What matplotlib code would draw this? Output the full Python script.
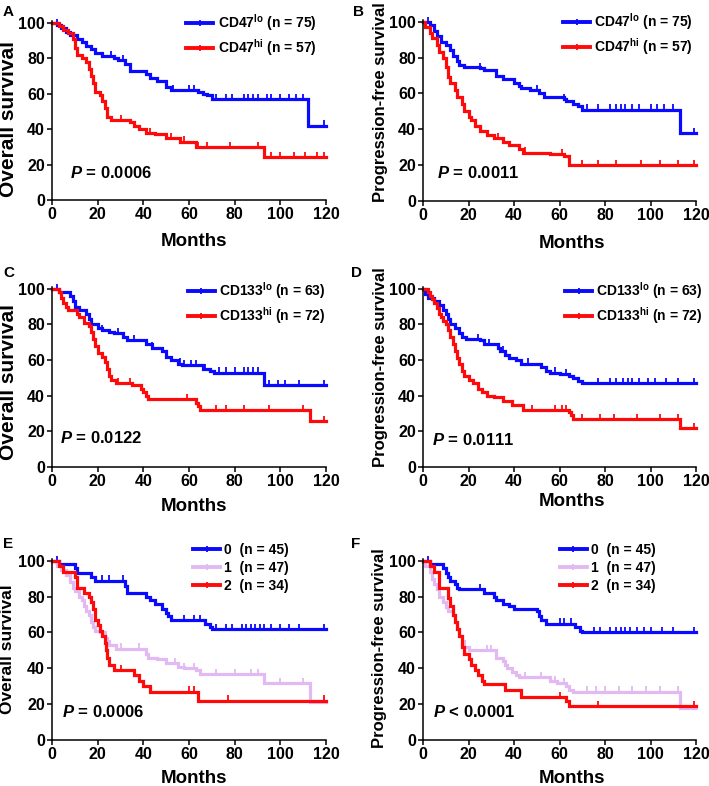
import numpy as np
import matplotlib
matplotlib.use("Agg")
import matplotlib.pyplot as plt
from matplotlib.lines import Line2D

plt.rcParams["font.family"] = "Liberation Sans"
plt.rcParams["font.weight"] = "bold"
plt.rcParams["mathtext.fontset"] = "custom"
plt.rcParams["mathtext.rm"] = "Liberation Sans:bold"
plt.rcParams["mathtext.it"] = "Liberation Sans:bold:italic"
plt.rcParams["mathtext.bf"] = "Liberation Sans:bold"
plt.rcParams["mathtext.default"] = "rm"

BLUE = "#0a0aff"
RED = "#ff0a0a"
LAV = "#e2b9f2"

# --- Kaplan-Meier step curves (time in months, survival in %) ---
a_lo_t = [0, 2, 4, 6, 8, 11, 13, 15, 17, 19, 22, 27, 29, 32, 34, 41, 43, 46, 50, 52, 64, 66, 68, 70, 112, 120]
a_lo_s = [100, 99, 97, 95, 93, 91, 89, 87, 85, 83, 81, 80, 79, 77, 73, 71, 69, 67, 64, 62, 61, 60, 59, 57, 42, 42]
a_lo_c = [2, 26, 31, 53, 60, 62, 72, 76, 79, 84, 86, 88, 90, 94, 96, 100, 104, 107, 110, 119]
a_hi_t = [0, 3, 5, 7, 9, 10, 11, 13, 15, 16, 17, 18, 19, 21, 22, 23, 24, 26, 34, 36, 38, 41, 45, 50, 56, 63, 93, 120]
a_hi_s = [100, 98, 96, 94, 91, 86, 82, 80, 78, 74, 70, 66, 61, 59, 56, 52, 47, 45, 44, 42, 40, 38, 37, 35, 33, 30, 24, 24]
a_hi_c = [30, 43, 52, 58, 64, 68, 78, 90, 96, 100, 106, 111, 116, 119]

b_lo_t = [0, 3, 5, 6, 8, 10, 12, 13, 15, 16, 18, 25, 27, 32, 35, 40, 42, 43, 47, 51, 53, 62, 63, 66, 68, 70, 113, 120]
b_lo_s = [100, 98, 95, 92, 89, 87, 84, 81, 78, 76, 75, 74, 73, 70, 68, 66, 64, 63, 62, 60, 58, 57, 56, 54, 53, 51, 38, 38]
b_lo_c = [2, 25, 40, 50, 62, 72, 77, 82, 85, 87, 89, 92, 95, 100, 103, 106, 110, 119]
b_hi_t = [0, 1, 3, 4, 6, 7, 9, 10, 11, 12, 14, 15, 17, 18, 20, 21, 23, 25, 28, 31, 35, 38, 42, 44, 56, 62, 64, 120]
b_hi_s = [100, 97, 94, 91, 87, 83, 80, 75, 69, 66, 62, 58, 54, 50, 47, 45, 42, 39, 37, 35, 33, 31, 29, 27, 26, 25, 20, 20]
b_hi_c = [33, 45, 61, 64, 70, 77, 85, 96, 104, 112, 119]

c_lo_t = [0, 3, 8, 9, 10, 12, 15, 16, 17, 20, 22, 25, 27, 31, 33, 41, 44, 48, 50, 52, 55, 57, 66, 69, 71, 93, 120]
c_lo_s = [100, 98, 96, 93, 90, 88, 86, 83, 80, 78, 77, 76, 75, 73, 71, 69, 67, 65, 62, 60, 58, 57, 55, 54, 53, 46, 46]
c_lo_c = [2, 22, 29, 36, 44, 56, 58, 61, 63, 67, 73, 76, 80, 84, 86, 88, 90, 95, 99, 102, 108, 119]
c_hi_t = [0, 3, 4, 5, 6, 7, 11, 12, 14, 16, 17, 18, 19, 20, 22, 23, 24, 25, 26, 28, 35, 39, 40, 41, 42, 63, 64, 65, 113, 120]
c_hi_s = [100, 98, 95, 92, 90, 88, 86, 84, 81, 79, 76, 72, 68, 64, 62, 59, 55, 51, 49, 47, 46, 44, 42, 40, 38, 36, 34, 32, 26, 26]
c_hi_c = [29, 34, 59, 63, 72, 76, 84, 95, 110, 119]

d_lo_t = [0, 1, 2, 5, 7, 9, 10, 11, 12, 14, 16, 17, 19, 25, 27, 33, 34, 36, 38, 41, 43, 52, 54, 56, 60, 64, 66, 68, 70, 120]
d_lo_s = [100, 97, 95, 93, 91, 88, 86, 83, 80, 78, 75, 73, 72, 71, 69, 67, 65, 63, 61, 60, 58, 56, 54, 53, 52, 51, 50, 48, 47, 47]
d_lo_c = [2, 24, 29, 35, 46, 58, 63, 77, 82, 85, 88, 90, 92, 95, 99, 102, 107, 112, 119]
d_hi_t = [0, 2, 3, 4, 5, 6, 7, 8, 9, 10, 11, 12, 13, 14, 15, 16, 17, 18, 20, 22, 24, 26, 28, 31, 35, 39, 44, 64, 65, 66, 113, 120]
d_hi_s = [100, 98, 96, 94, 92, 89, 86, 84, 82, 80, 77, 73, 69, 65, 61, 58, 54, 51, 49, 47, 44, 42, 40, 39, 37, 35, 32, 31, 29, 27, 22, 22]
d_hi_c = [44, 48, 58, 61, 63, 70, 78, 84, 94, 104, 112, 119]

e_0_t = [0, 3, 10, 11, 17, 19, 32, 33, 41, 43, 45, 48, 50, 51, 52, 67, 69, 70, 120]
e_0_s = [100, 98, 96, 93, 91, 89, 86, 82, 80, 78, 76, 73, 71, 69, 67, 65, 63, 62, 62]
e_0_c = [2, 22, 25, 31, 58, 62, 65, 72, 76, 79, 83, 85, 87, 89, 91, 93, 96, 100, 104, 108, 119]
e_1_t = [0, 2, 4, 6, 8, 9, 10, 12, 13, 14, 15, 16, 17, 18, 19, 21, 23, 24, 25, 28, 41, 42, 46, 50, 55, 58, 63, 65, 93, 113, 120]
e_1_s = [100, 97, 95, 92, 88, 85, 83, 80, 78, 75, 72, 70, 66, 63, 61, 60, 57, 55, 53, 51, 48, 46, 45, 43, 41, 40, 39, 37, 32, 21, 21]
e_1_c = [30, 38, 54, 58, 62, 72, 80, 87, 90, 100, 110, 119]
e_2_t = [0, 3, 5, 10, 11, 14, 16, 17, 18, 19, 20, 21, 22, 23, 23.5, 24, 25, 27, 36, 38, 40, 43, 64, 120]
e_2_s = [100, 97, 94, 91, 85, 82, 80, 77, 73, 67, 64, 61, 58, 54, 50, 46, 42, 39, 36, 33, 30, 27, 22, 22]
e_2_c = [30, 60, 62, 77, 119]

f_0_t = [0, 3, 9, 10, 11, 12, 14, 15, 16, 27, 31, 32, 35, 38, 40, 50, 51, 52, 54, 67, 69, 70, 120]
f_0_s = [100, 98, 96, 93, 91, 89, 87, 85, 84, 82, 80, 78, 76, 75, 73, 72, 69, 67, 65, 63, 61, 60, 60]
f_0_c = [2, 25, 60, 62, 65, 75, 78, 82, 85, 87, 89, 91, 94, 97, 100, 105, 110, 119]
f_1_t = [0, 1, 3, 4, 5, 6, 7, 9, 10, 11, 13, 14, 15, 16, 17, 18, 20, 32, 35, 36, 37, 39, 41, 42, 56, 59, 63, 64, 66, 113, 120]
f_1_s = [100, 97, 94, 90, 87, 84, 80, 77, 74, 72, 70, 66, 62, 58, 55, 52, 50, 46, 44, 42, 40, 38, 36, 35, 33, 32, 30, 28, 27, 18, 18]
f_1_c = [28, 30, 45, 52, 58, 62, 72, 76, 80, 86, 92, 98, 104, 112, 119]
f_2_t = [0, 3, 5, 7, 11, 12, 13, 14, 15, 16, 17, 18, 20, 21, 23, 24, 26, 27, 36, 43, 63, 64, 120]
f_2_s = [100, 97, 94, 85, 79, 75, 70, 66, 62, 58, 52, 48, 45, 42, 39, 36, 33, 31, 28, 24, 22, 19, 19]
f_2_c = [60, 77, 119]

lab_47 = ["CD47$^{lo}$ (n = 75)", "CD47$^{hi}$ (n = 57)"]
lab_133 = ["CD133$^{lo}$ (n = 63)", "CD133$^{hi}$ (n = 72)"]
lab_grp = ["0  (n = 45)", "1  (n = 47)", "2  (n = 34)"]
p_values = [r"$\mathit{P}$ = 0.0006", r"$\mathit{P}$ = 0.0011", r"$\mathit{P}$ = 0.0122",
            r"$\mathit{P}$ = 0.0111", r"$\mathit{P}$ = 0.0006", r"$\mathit{P}$ < 0.0001"]
letters = ["A", "B", "C", "D", "E", "F"]

OS = "Overall survival"
PFS = "Progression-free survival"

panels = [
    dict(curves=[(a_lo_t, a_lo_s, a_lo_c, BLUE), (a_hi_t, a_hi_s, a_hi_c, RED)], labels=lab_47, ylabel=OS),
    dict(curves=[(b_lo_t, b_lo_s, b_lo_c, BLUE), (b_hi_t, b_hi_s, b_hi_c, RED)], labels=lab_47, ylabel=PFS),
    dict(curves=[(c_lo_t, c_lo_s, c_lo_c, BLUE), (c_hi_t, c_hi_s, c_hi_c, RED)], labels=lab_133, ylabel=OS),
    dict(curves=[(d_lo_t, d_lo_s, d_lo_c, BLUE), (d_hi_t, d_hi_s, d_hi_c, RED)], labels=lab_133, ylabel=PFS),
    dict(curves=[(e_0_t, e_0_s, e_0_c, BLUE), (e_1_t, e_1_s, e_1_c, LAV), (e_2_t, e_2_s, e_2_c, RED)],
         labels=lab_grp, ylabel=OS),
    dict(curves=[(f_0_t, f_0_s, f_0_c, BLUE), (f_1_t, f_1_s, f_1_c, LAV), (f_2_t, f_2_s, f_2_c, RED)],
         labels=lab_grp, ylabel=PFS),
]

# layout (pixels in a 709x786 canvas)
W, H = 709, 786
rects = [(52, 200, 274, 179), (423, 201, 273, 181),
         (52, 467, 274, 180), (423, 467, 273, 180),
         (52, 740, 274, 181), (423, 740, 273, 181)]
ylab_size = [15, 12, 15, 12, 12.5, 12]
ylab_xy = [(-0.124, 0.45), (-0.128, 0.545), (-0.124, 0.47), (-0.128, 0.555), (-0.135, 0.50), (-0.132, 0.51)]
xlab_xy = [(0.52, -0.184), (0.546, -0.188), (0.52, -0.172), (0.546, -0.145), (0.52, -0.166), (0.546, -0.166)]
leg_xy = [(0.49, 1.05), (0.513, 1.05), (0.496, 1.04), (0.52, 1.04), (0.515, 1.09), (0.50, 1.09)]
p_xy = [(7.9, 12.3), (6.2, 12.7), (3.5, 13.3), (4.0, 12.2), (4.4, 12.7), (4.4, 12.7)]
letter_xy = [(3, 16), (353, 16), (3, 277), (351, 277), (3, 548), (351, 548)]

fig = plt.figure(figsize=(W / 100, H / 100), dpi=100)

for i, p in enumerate(panels):
    l, b, w, h = rects[i]
    ax = fig.add_axes([l / W, 1 - b / H, w / W, h / H])
    handles = []
    for (t, s, cens, col) in p["curves"]:
        t = np.array(t, float)
        s = np.array(s, float)
        ax.step(t, s, where="post", color=col, lw=2.3, clip_on=False, solid_joinstyle="miter")
        c = np.array(cens, float)
        cy = s[np.searchsorted(t, c, side="right") - 1]
        ax.plot(c, cy + 1.2, ls="none", marker="|", ms=4, mew=1.3, color=col, clip_on=False)
        handles.append(Line2D([], [], color=col, lw=2.8, marker="|", ms=4, mew=1.3))
    ax.set_xlim(0, 120)
    ax.set_ylim(0, 101)
    ax.set_xticks(np.arange(0, 121, 20))
    ax.set_yticks(np.arange(0, 101, 20))
    for side in ["top", "right"]:
        ax.spines[side].set_visible(False)
    for side in ["left", "bottom"]:
        ax.spines[side].set_linewidth(1.1)
    ax.tick_params(direction="out", length=3.5, width=1.1, labelsize=11.5, pad=1.5)
    ax.set_xlabel("Months", fontsize=13.5, fontweight="bold", va="top")
    ax.xaxis.set_label_coords(*xlab_xy[i])
    ax.set_ylabel(p["ylabel"], fontsize=ylab_size[i], fontweight="bold")
    ax.yaxis.set_label_coords(*ylab_xy[i])
    ax.legend(handles, p["labels"], loc="upper left", bbox_to_anchor=leg_xy[i], frameon=False,
              fontsize=10, handlelength=1.95, handletextpad=0.3, labelspacing=0.3,
              borderpad=0, borderaxespad=0)
    ax.text(p_xy[i][0], p_xy[i][1], p_values[i], fontsize=12, fontweight="bold", ha="left", va="baseline")
    fig.text(letter_xy[i][0] / W, 1 - letter_xy[i][1] / H, letters[i], fontsize=11, fontweight="bold",
             ha="left", va="baseline")

fig.savefig("out.png", dpi=100)
